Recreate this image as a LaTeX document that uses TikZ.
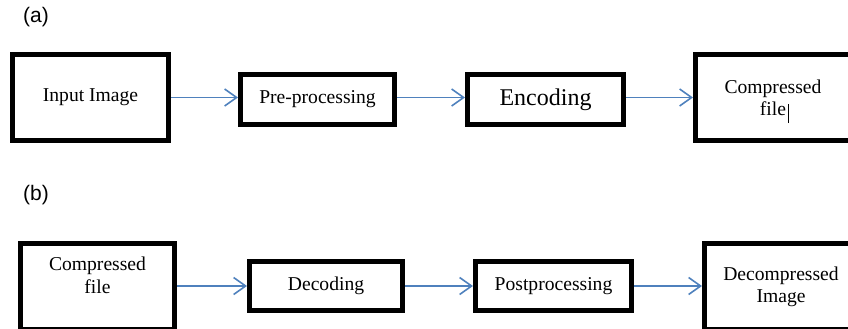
\documentclass[tikz,border=0pt]{standalone}
\usepackage{fontspec}
\setmainfont{Liberation Serif}
\newfontfamily\labfont{Liberation Sans}
\usetikzlibrary{arrows.meta}
\definecolor{arrowblue}{RGB}{79,129,189}
\begin{document}
\begin{tikzpicture}[x=1pt,y=-1pt,
  box/.style={draw=black, line width=5pt, fill=white, inner sep=0pt, align=center,
              font=\fontsize{19.6}{22}\selectfont},
  bigbox/.style={box, minimum width=155pt, minimum height=86pt},
  smallbox/.style={box, minimum width=155pt, minimum height=50pt},
  boxtext/.style={inner sep=0pt, align=center, font=\fontsize{19.6}{22.5}\selectfont},
  conn/.style={draw=arrowblue, line width=1.6pt, -{Straight Barb[length=12pt,width=17pt]}},
  tag/.style={font=\labfont\fontsize{21}{24}\selectfont, inner sep=0pt}]
\useasboundingbox (0,0) rectangle (848,329);
\clip (0,0) rectangle (848,329);
% row (a)
\node[tag] (ta) at (36,17) {(a)};
\node[bigbox, minimum width=156pt] (in) at (90.5,97.5) {Input Image};
\node[smallbox, minimum width=154pt] (pre) at (317.5,99.5) {Pre-processing};
\node[smallbox, minimum width=156pt, font=\fontsize{24}{28}\selectfont] (enc) at (545.5,99.5) {Encoding};
\node[bigbox] (cf) at (773,97.5) {Compressed\\file\rlap{\hspace{1.5pt}\smash{\rule[-8pt]{0.9pt}{19pt}}}};
\draw[conn] (in.east) -- (pre.west |- in.east);
\draw[conn] (pre.east |- in.east) -- (enc.west |- in.east);
\draw[conn] (enc.east |- in.east) -- (cf.west);
% row (b)
\node[tag] (tb) at (36,195) {(b)};
\node[bigbox, minimum width=154pt] (cb) at (97.5,286.5) {};
\node[boxtext, anchor=north] (cbt) at ([yshift=-16pt]cb.north) {Compressed\\file};
\node[smallbox, minimum width=153pt, minimum height=49pt] (dec) at (326,286) {Decoding};
\node[smallbox, minimum width=156pt, minimum height=49pt] (post) at (553.5,286) {Postprocessing};
\node[bigbox, minimum width=153pt] (dc) at (781,286.5) {Decompressed\\Image};
\draw[conn] (cb.east |- dec.west) -- (dec.west);
\draw[conn] (dec.east) -- (post.west);
\draw[conn] (post.east) -- (dc.west |- post.east);
\end{tikzpicture}
\end{document}
